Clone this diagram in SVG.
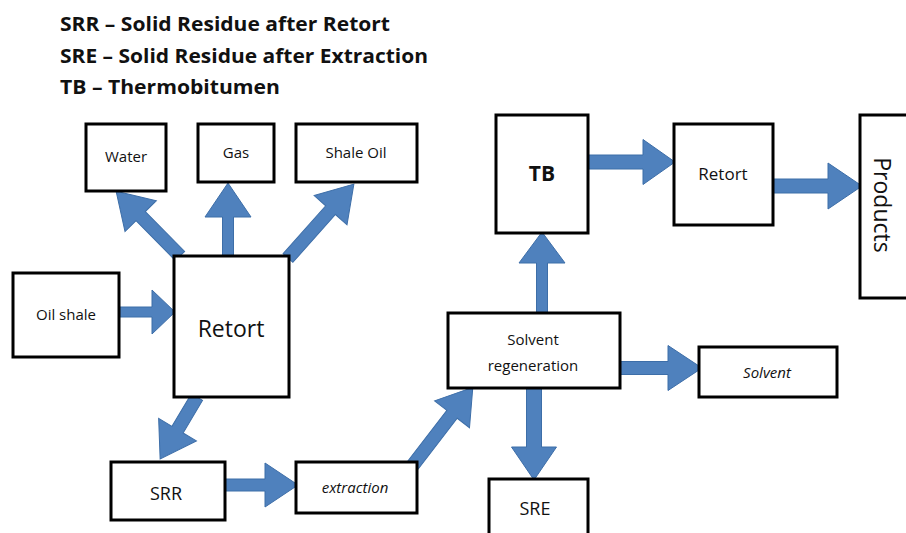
<svg xmlns="http://www.w3.org/2000/svg" width="906" height="533" viewBox="0 0 906 533">
<style>
.box{fill:#fff;stroke:#000;stroke-width:3}
.arr{fill:#4f81bd;stroke:#3d6ea8;stroke-width:1}
.t{font-family:"Open Sans","Liberation Sans",sans-serif;fill:#111;text-anchor:middle}
.h{font-family:"Open Sans","Liberation Sans",sans-serif;font-weight:bold;fill:#111}
</style>
<rect width="906" height="533" fill="#fff"/>
<g id="legend">
<text class="h" x="60" y="31" font-size="19" textLength="330" lengthAdjust="spacingAndGlyphs">SRR – Solid Residue after Retort</text>
<text class="h" x="60" y="63" font-size="19" textLength="368" lengthAdjust="spacingAndGlyphs">SRE – Solid Residue after Extraction</text>
<text class="h" x="60" y="94" font-size="19" textLength="220" lengthAdjust="spacingAndGlyphs">TB – Thermobitumen</text>
</g>
<g id="connectors">
<polygon class="arr" transform="translate(119,312)" points="0,-5 33,-5 33,-22 56,0 33,22 33,5 0,5"/>
<polygon class="arr" transform="translate(228,256) rotate(-90)" points="0,-5.5 39,-5.5 39,-23 73,0 39,23 39,5.5 0,5.5"/>
<polygon class="arr" transform="translate(180,256) rotate(-134.6)" points="0,-6.5 56,-6.5 56,-22 91,0 56,22 56,6.5 0,6.5"/>
<polygon class="arr" transform="translate(288,258) rotate(-48.3)" points="0,-6.5 64,-6.5 64,-22 99,0 64,22 64,6.5 0,6.5"/>
<polygon class="arr" transform="translate(197,397) rotate(120.8)" points="0,-6.5 38,-6.5 38,-22 72,0 38,22 38,6.5 0,6.5"/>
<polygon class="arr" transform="translate(225,485)" points="0,-6 40,-6 40,-22 73,0 40,22 40,6 0,6"/>
<polygon class="arr" transform="translate(413,465) rotate(-52.4)" points="0,-6.5 64,-6.5 64,-22 98,0 64,22 64,6.5 0,6.5"/>
<polygon class="arr" transform="translate(542,313) rotate(-90)" points="0,-5.5 50,-5.5 50,-23 81,0 50,23 50,5.5 0,5.5"/>
<polygon class="arr" transform="translate(620,368)" points="0,-6.5 48,-6.5 48,-22.5 82,0 48,22.5 48,6.5 0,6.5"/>
<polygon class="arr" transform="translate(534,388) rotate(90)" points="0,-7.5 59,-7.5 59,-22.5 92,0 59,22.5 59,7.5 0,7.5"/>
<polygon class="arr" transform="translate(588,162)" points="0,-7 55,-7 55,-22.5 87,0 55,22.5 55,7 0,7"/>
<polygon class="arr" transform="translate(773,186)" points="0,-7 55,-7 55,-23 89,0 55,23 55,7 0,7"/>
</g>
<g id="water"><rect class="box" x="86" y="124" width="80" height="67"/><text class="t" x="126" y="162" font-size="15">Water</text></g>
<g id="gas"><rect class="box" x="198" y="124" width="76" height="58"/><text class="t" x="236" y="158" font-size="15">Gas</text></g>
<g id="shaleoil"><rect class="box" x="296" y="124" width="121" height="58"/><text class="t" x="356" y="158" font-size="15">Shale Oil</text></g>
<g id="oilshale"><rect class="box" x="13" y="273" width="106" height="84"/><text class="t" x="66" y="320" font-size="15">Oil shale</text></g>
<g id="retort"><rect class="box" x="174" y="256" width="115" height="141"/><text class="t" x="231" y="337" font-size="23">Retort</text></g>
<g id="srr"><rect class="box" x="111" y="462" width="114" height="58"/><text class="t" x="166" y="500" font-size="18">SRR</text></g>
<g id="extraction"><rect class="box" x="296" y="462" width="121" height="51"/><text class="t" x="355" y="493" font-size="15" font-style="italic">extraction</text></g>
<g id="solventregen"><rect class="box" x="448" y="313" width="172" height="75"/><text class="t" x="533" y="345" font-size="15">Solvent</text><text class="t" x="533" y="371" font-size="15">regeneration</text></g>
<g id="solvent"><rect class="box" x="699" y="347" width="138" height="50"/><text class="t" x="767" y="378" font-size="15" font-style="italic">Solvent</text></g>
<g id="sre"><rect class="box" x="489" y="479" width="99" height="60"/><text class="t" x="535" y="515" font-size="18">SRE</text></g>
<g id="tb"><rect class="box" x="496" y="115" width="92" height="118"/><text class="t" x="542" y="181" font-size="21" font-weight="bold">TB</text></g>
<g id="retort2"><rect class="box" x="674" y="124" width="99" height="101"/><text class="t" x="723" y="180" font-size="17">Retort</text></g>
<g id="products"><rect class="box" x="860" y="115" width="60" height="183"/><text class="t" x="0" y="0" font-size="23" transform="translate(874,205) rotate(90)">Products</text></g>
</svg>
